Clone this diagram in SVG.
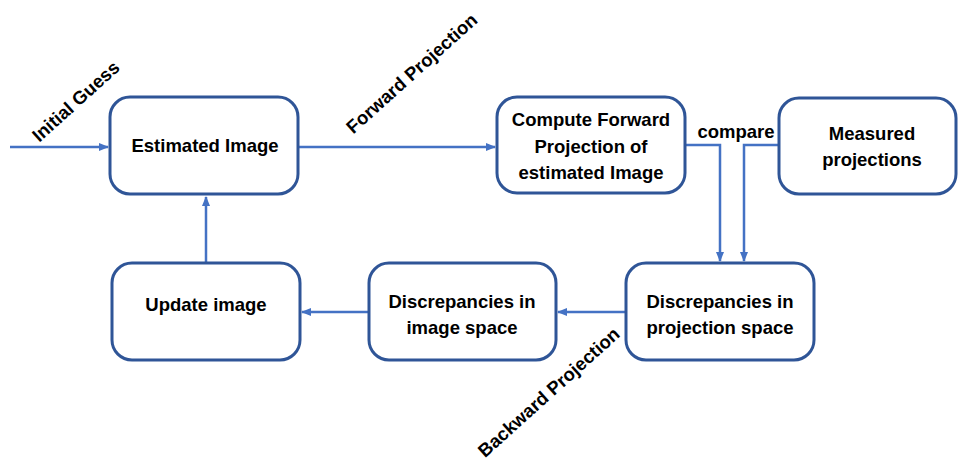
<svg xmlns="http://www.w3.org/2000/svg" width="958" height="462" viewBox="0 0 958 462">
  <defs>
    <marker id="arrow" markerWidth="10" markerHeight="8" refX="9" refY="4" orient="auto" markerUnits="userSpaceOnUse">
      <path d="M0,0 L10,4 L0,8 Z" fill="#4472C4"/>
    </marker>
    <style>
      .box { fill: #ffffff; stroke: #2F5597; stroke-width: 3; }
      .lbl { font-family: "Liberation Sans", Arial, sans-serif; font-weight: bold; font-size: 18.5px; fill: #000000; text-anchor: middle; }
      .edge { fill: none; stroke: #4472C4; stroke-width: 2.5; }
    </style>
  </defs>
  <rect width="958" height="462" fill="#ffffff"/>

  <g id="connectors">
    <path class="edge" d="M10,147 H108" marker-end="url(#arrow)"/>
    <path class="edge" d="M298,147 H495" marker-end="url(#arrow)"/>
    <path class="edge" d="M685,145 H720 V261" marker-end="url(#arrow)"/>
    <path class="edge" d="M779,145 H744 V261" marker-end="url(#arrow)"/>
    <path class="edge" d="M626,312 H558" marker-end="url(#arrow)"/>
    <path class="edge" d="M369,312 H302" marker-end="url(#arrow)"/>
    <path class="edge" d="M206,263 V197" marker-end="url(#arrow)"/>
  </g>

  <g id="edge-labels">
    <text class="lbl" transform="translate(80,106) rotate(-42)">Initial Guess</text>
    <text class="lbl" transform="translate(416,78) rotate(-42)">Forward Projection</text>
    <text class="lbl" transform="translate(553,397) rotate(-42)">Backward Projection</text>
    <text class="lbl" x="736" y="138">compare</text>
  </g>

  <g id="estimated-image">
    <rect class="box" x="110" y="97" width="188" height="97" rx="20"/>
    <text class="lbl" x="205" y="152">Estimated Image</text>
  </g>

  <g id="compute-forward">
    <rect class="box" x="497" y="97" width="188" height="96" rx="20"/>
    <text class="lbl" x="591" y="126">Compute Forward</text>
    <text class="lbl" x="591" y="153">Projection of</text>
    <text class="lbl" x="591" y="179">estimated Image</text>
  </g>

  <g id="measured-projections">
    <rect class="box" x="779" y="98" width="177" height="96" rx="20"/>
    <text class="lbl" x="872" y="140">Measured</text>
    <text class="lbl" x="872" y="166">projections</text>
  </g>

  <g id="update-image">
    <rect class="box" x="112" y="263" width="188" height="97" rx="20"/>
    <text class="lbl" x="206" y="311">Update image</text>
  </g>

  <g id="discrepancies-image">
    <rect class="box" x="369" y="263" width="187" height="97" rx="20"/>
    <text class="lbl" x="462" y="308">Discrepancies in</text>
    <text class="lbl" x="462" y="334">image space</text>
  </g>

  <g id="discrepancies-projection">
    <rect class="box" x="626" y="263" width="188" height="97" rx="20"/>
    <text class="lbl" x="720" y="308">Discrepancies in</text>
    <text class="lbl" x="720" y="334">projection space</text>
  </g>
</svg>
